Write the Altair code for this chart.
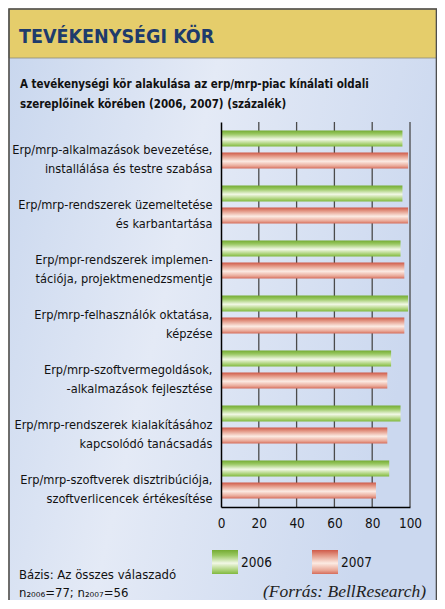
import altair as alt
import pandas as pd

# ---------------- data ----------------
categories = [
    "Erp/mrp-alkalmazások bevezetése,|installálása és testre szabása",
    "Erp/mrp-rendszerek üzemeltetése|és karbantartása",
    "Erp/mpr-rendszerek implemen-|tációja, projektmenedzsmentje",
    "Erp/mrp-felhasználók oktatása,|képzése",
    "Erp/mrp-szoftvermegoldások,|-alkalmazások fejlesztése",
    "Erp/mrp-rendszerek kialakításához|kapcsolódó tanácsadás",
    "Erp/mrp-szoftverek disztribúciója,|szoftverlicencek értékesítése",
]
years = ["2006", "2007"]
values_2006 = [96, 96, 95, 99, 90, 95, 89]
values_2007 = [99, 99, 97, 97, 88, 88, 82]
x_ticks = [0, 20, 40, 60, 80, 100]

title_text = "TEVÉKENYSÉGI KÖR"
subtitle_lines = [
    "A tevékenységi kör alakulása az erp/mrp-piac kínálati oldali",
    "szereplőinek körében (2006, 2007) (százalék)",
]
base_note = "Bázis: Az összes válaszadó"
n_note = "n₂₀₀₆=77; n₂₀₀₇=56"
source_note = "(Forrás: BellResearch)"

df = pd.DataFrame({
    "category": categories * 2,
    "year": [years[0]] * len(categories) + [years[1]] * len(categories),
    "value": values_2006 + values_2007,
})

# ---------------- styling ----------------
NARROW = "DejaVu Sans Condensed, DejaVu Sans, sans-serif"
W, H = 189, 385
CREAM = "#FCF4DE"


def grad(c_top, c_mid, c_bot, c_top2, c_bot2):
    return alt.LinearGradient(
        gradient="linear", x1=0, x2=0, y1=0, y2=1,
        stops=[
            alt.GradientStop(offset=0, color=c_top),
            alt.GradientStop(offset=0.22, color=c_top2),
            alt.GradientStop(offset=0.55, color=c_mid),
            alt.GradientStop(offset=0.85, color=c_bot2),
            alt.GradientStop(offset=1, color=c_bot),
        ],
    )


green = grad("#74AB32", "#F2F8E6", "#80B83F", "#99C862", "#A8D073")
red = grad("#CF5A49", "#FCEBE3", "#D56C5A", "#E39785", "#E9A695")
blue_bg = alt.LinearGradient(
    gradient="linear", x1=0, x2=1, y1=0, y2=0.3,
    stops=[
        alt.GradientStop(offset=0, color="#C9D7EE"),
        alt.GradientStop(offset=0.45, color="#E4EAF6"),
        alt.GradientStop(offset=1, color="#CBD8EF"),
    ],
)

one = alt.Data(values=[{"k": 0}])

x_axis = alt.Axis(
    values=x_ticks, title=None, grid=False, tickSize=0, domain=True,
    domainColor="#000000", domainWidth=1.5, labelFont=NARROW, labelFontSize=13.5,
    labelColor="#111111", labelPadding=9, zindex=1, labelFlush=False,
)
x_scale = alt.Scale(domain=[0, 100], nice=False, zero=True)
y_enc = alt.Y(
    "category:N", sort=categories,
    scale=alt.Scale(paddingInner=0, paddingOuter=0),
    axis=alt.Axis(
        title=None, ticks=False, grid=False, domain=True, domainColor="#000000",
        domainWidth=1.5, labelFont=NARROW, labelFontSize=12.7, labelColor="#111111",
        labelPadding=9, labelLineHeight=19, labelLimit=0,
        labelExpr="split(datum.label, '|')", zindex=1,
    ),
)
yoff_enc = alt.YOffset("year:N", sort=years, scale=alt.Scale(paddingInner=0.273, paddingOuter=0.386))

# ---------------- background panels ----------------
panel_blue = alt.Chart(one).mark_rect(fill=blue_bg).encode(
    x=alt.value(-212), x2=alt.value(216), y=alt.value(-64), y2=alt.value(490)
)
panel_yellow = alt.Chart(one).mark_rect(fill="#E5CD6B", stroke="#8E8A78", strokeWidth=0.8).encode(
    x=alt.value(-212), x2=alt.value(216), y=alt.value(-113), y2=alt.value(-64)
)
frame = alt.Chart(one).mark_rect(fill=None, stroke="#4E4E4E", strokeWidth=1.6).encode(
    x=alt.value(-212), x2=alt.value(215.5), y=alt.value(-113), y2=alt.value(490)
)

# ---------------- grid ----------------
grid = alt.Chart(pd.DataFrame({"tick": x_ticks[1:]})).mark_rule(
    color="#4A4A4A", strokeWidth=1.3
).encode(x=alt.X("tick:Q", scale=x_scale, axis=x_axis))

# ---------------- bars ----------------
bars06 = alt.Chart(df).transform_filter(alt.datum.year == years[0]).mark_bar(
    fill=green, cornerRadius=0
).encode(x=alt.X("value:Q", scale=x_scale, axis=x_axis), y=y_enc, yOffset=yoff_enc)
bars07 = alt.Chart(df).transform_filter(alt.datum.year == years[1]).mark_bar(
    fill=red, cornerRadius=0
).encode(x=alt.X("value:Q", scale=x_scale, axis=x_axis), y=y_enc, yOffset=yoff_enc)

# ---------------- texts ----------------
title = alt.Chart(one).mark_text(
    text=title_text, font=NARROW, fontSize=19.5, fontWeight="bold", color="#1E3B6C",
    align="left", baseline="alphabetic",
).encode(x=alt.value(-202), y=alt.value(-79))
sub1 = alt.Chart(one).mark_text(
    text=subtitle_lines[0], font=NARROW, fontSize=11.5, fontWeight="bold", color="#111111",
    align="left", baseline="alphabetic",
).encode(x=alt.value(-201), y=alt.value(-34))
sub2 = alt.Chart(one).mark_text(
    text=subtitle_lines[1], font=NARROW, fontSize=11.5, fontWeight="bold", color="#111111",
    align="left", baseline="alphabetic",
).encode(x=alt.value(-201), y=alt.value(-14))

leg_g = alt.Chart(one).mark_rect(fill=green).encode(
    x=alt.value(-9), x2=alt.value(17), y=alt.value(428), y2=alt.value(452)
)
leg_r = alt.Chart(one).mark_rect(fill=red).encode(
    x=alt.value(91), x2=alt.value(117), y=alt.value(428), y2=alt.value(452)
)
leg_t1 = alt.Chart(one).mark_text(
    text=years[0], font=NARROW, fontSize=13.5, color="#111111", align="left", baseline="middle"
).encode(x=alt.value(20), y=alt.value(441))
leg_t2 = alt.Chart(one).mark_text(
    text=years[1], font=NARROW, fontSize=13.5, color="#111111", align="left", baseline="middle"
).encode(x=alt.value(120), y=alt.value(441))

note1 = alt.Chart(one).mark_text(
    text=base_note, font=NARROW, fontSize=13, color="#111111", align="left", baseline="alphabetic"
).encode(x=alt.value(-202), y=alt.value(457))
note2 = alt.Chart(one).mark_text(
    text=n_note, font=NARROW, fontSize=13, color="#111111", align="left", baseline="alphabetic"
).encode(x=alt.value(-202), y=alt.value(475))
source = alt.Chart(one).mark_text(
    text=source_note, font="Liberation Serif, DejaVu Serif, serif", fontSize=17.5,
    fontStyle="italic", color="#222222", align="right", baseline="alphabetic",
).encode(x=alt.value(205), y=alt.value(475))

chart = alt.layer(
    panel_blue, panel_yellow, frame, grid, bars06, bars07,
    title, sub1, sub2, leg_g, leg_r, leg_t1, leg_t2, note1, note2, source,
).properties(
    width=W, height=H,
    padding={"left": 213, "top": 114, "right": 27, "bottom": 93},
    autosize=alt.AutoSizeParams(type="none"),
    background=CREAM,
).configure_view(strokeWidth=0, fill=None)

chart.save("out.html", embed_options={"renderer": "svg", "actions": False})
